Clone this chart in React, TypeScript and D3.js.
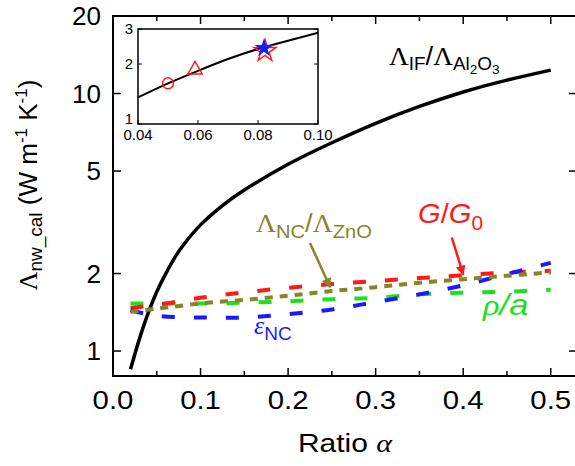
import React from 'react';
import * as d3 from 'd3';

// main panel data (ratio alpha vs calculated conductivity)
const alphaIF = [0.02, 0.03, 0.04, 0.05, 0.06, 0.07, 0.08, 0.1, 0.125, 0.15, 0.2, 0.25, 0.3, 0.35, 0.4, 0.45, 0.5];
const lambdaIF = [0.85, 1.11, 1.4, 1.7, 1.99, 2.29, 2.57, 3.09, 3.67, 4.22, 5.31, 6.44, 7.66, 8.91, 10.14, 11.27, 12.33];

const alpha = [0.02, 0.05, 0.1, 0.15, 0.2, 0.25, 0.3, 0.35, 0.4, 0.45, 0.5];
const gRatio = [1.47, 1.51, 1.61, 1.69, 1.76, 1.82, 1.87, 1.92, 1.97, 2.02, 2.05];
const rhoA = [1.53, 1.53, 1.53, 1.54, 1.56, 1.59, 1.61, 1.66, 1.685, 1.7, 1.73];
const epsNC = [1.44, 1.37, 1.35, 1.35, 1.39, 1.45, 1.55, 1.66, 1.8, 1.99, 2.2];
const lambdaNC = [1.42, 1.46, 1.53, 1.58, 1.64, 1.71, 1.77, 1.84, 1.9, 1.96, 2.02];

// inset data
const insetAlpha = [0.04, 0.05, 0.06, 0.07, 0.08, 0.09, 0.1];
const insetLambda = [1.36, 1.6, 1.85, 2.12, 2.38, 2.62, 2.87];
const insetMarks = [
  { a: 0.05, v: 1.6, shape: 'circle' },
  { a: 0.059, v: 1.85, shape: 'triangle' },
  { a: 0.082, v: 2.38, shape: 'star' },
];

const xTicks = [0, 0.1, 0.2, 0.3, 0.4, 0.5];
const xMinor = [0.05, 0.15, 0.25, 0.35, 0.45];
const yTicks = [1, 2, 5, 10, 20];
const insetXTicks = [0.04, 0.06, 0.08, 0.1];
const insetYTicks = [1, 2, 3];

const RED = '#ff1a1a';
const GREEN = '#1fe01f';
const BLUE = '#1a1aff';
const OLIVE = '#85852a';

const W = 575, H = 466;
const left = 113, right = 577, top = 16, bottom = 376;

const sans = 'Arial, "Liberation Sans", sans-serif';
const serif = '"Liberation Serif", "Times New Roman", serif';

// text that is a bit wider than the font, like the original export
function WideText({ x, y, sx = 1.15, children, ...rest }: any) {
  return (
    <g transform={`translate(${x},${y}) scale(${sx},1)`}>
      <text x={0} y={0} {...rest}>{children}</text>
    </g>
  );
}

export default function App() {
  const x = d3.scaleLinear().domain([0, 0.53]).range([left, right]);
  const y = d3.scaleLog().domain([0.8, 20]).range([bottom, top]);

  const ix = d3.scaleLinear().domain([0.04, 0.1]).range([138, 318]);
  const iy = d3.scaleLog().domain([1, 3]).range([124, 29]);

  const line = (xs: number[], ys: number[], curve: any = d3.curveCatmullRom) =>
    d3.line<number>().x((d, i) => x(xs[i])).y(d => y(d)).curve(curve)(ys) || '';
  const insetLine = d3.line<number>().x((d, i) => ix(insetAlpha[i])).y(d => iy(d)).curve(d3.curveNatural)(insetLambda) || '';

  const star = d3.symbol().type(d3.symbolStar).size(150)() || '';
  const tri = d3.symbol().type(d3.symbolTriangle).size(90)() || '';

  return (
    <svg width={W} height={H} style={{ position: 'absolute', left: 0, top: 0, background: '#fff' }}>
      <defs>
        <marker id="arrRed" viewBox="0 0 10 10" refX="9" refY="5" markerWidth="4" markerHeight="4" orient="auto">
          <path d="M0,0 L10,5 L0,10 z" fill={RED} />
        </marker>
        <marker id="arrOlive" viewBox="0 0 10 10" refX="9" refY="5" markerWidth="4" markerHeight="4" orient="auto">
          <path d="M0,0 L10,5 L0,10 z" fill={OLIVE} />
        </marker>
        <clipPath id="plotClip">
          <rect x={left} y={top} width={right - left} height={bottom - top} />
        </clipPath>
      </defs>

      {/* frame */}
      <rect x={left} y={top} width={right - left} height={bottom - top} fill="none" stroke="#000" strokeWidth={2} />

      {/* x ticks, bottom and top */}
      {xTicks.map(t => (
        <g key={'xt' + t}>
          <line x1={x(t)} x2={x(t)} y1={bottom} y2={bottom - 8} stroke="#000" strokeWidth={1.5} />
          <line x1={x(t)} x2={x(t)} y1={top} y2={top + 8} stroke="#000" strokeWidth={1.5} />
          <WideText x={x(t)} y={409} sx={1.13} textAnchor="middle" fontFamily={sans} fontSize={26}>{t.toFixed(1)}</WideText>
        </g>
      ))}
      {xMinor.map(t => (
        <g key={'xm' + t}>
          <line x1={x(t)} x2={x(t)} y1={bottom} y2={bottom - 5} stroke="#000" strokeWidth={1.5} />
          <line x1={x(t)} x2={x(t)} y1={top} y2={top + 5} stroke="#000" strokeWidth={1.5} />
        </g>
      ))}

      {/* y ticks, left and right */}
      {yTicks.map(t => (
        <g key={'yt' + t}>
          <line x1={left} x2={left + 8} y1={y(t)} y2={y(t)} stroke="#000" strokeWidth={1.5} />
          <line x1={right} x2={right - 8} y1={y(t)} y2={y(t)} stroke="#000" strokeWidth={1.5} />
          <text x={101} y={y(t)} dy="0.36em" textAnchor="end" fontFamily={sans} fontSize={26}>{t}</text>
        </g>
      ))}

      {/* axis titles */}
      <WideText x={345} y={452} sx={1.2} textAnchor="middle" fontFamily={sans} fontSize={25}>
        Ratio <tspan fontFamily={serif} fontStyle="italic">α</tspan>
      </WideText>
      <text transform="translate(37,185) rotate(-90)" textAnchor="middle" fontFamily={sans} fontSize={26}>
        <tspan fontFamily={serif}>Λ</tspan>
        <tspan fontSize={19} dy={5}>nw_cal</tspan>
        <tspan dy={-5}> (W m</tspan>
        <tspan fontSize={17} dy={-10}>-1</tspan>
        <tspan dy={10}> K</tspan>
        <tspan fontSize={17} dy={-10}>-1</tspan>
        <tspan dy={10}>)</tspan>
      </text>

      {/* curves */}
      <g clipPath="url(#plotClip)" fill="none">
        <path d={line(alphaIF, lambdaIF, d3.curveNatural)} stroke="#000" strokeWidth={3.5} />
        <path d={line(alpha, rhoA)} stroke={GREEN} strokeWidth={4} strokeDasharray="13,19" />
        <path d={line(alpha, gRatio)} stroke={RED} strokeWidth={4} strokeDasharray="13,19" />
        <path d={line(alpha, epsNC)} stroke={BLUE} strokeWidth={4} strokeDasharray="13,19" />
        <path d={line(alpha, lambdaNC)} stroke={OLIVE} strokeWidth={4} strokeDasharray="8,7" />
      </g>

      {/* annotations */}
      <WideText x={389} y={65} sx={1.05} fontFamily={sans} fontSize={26} fill="#000">
        <tspan fontFamily={serif}>Λ</tspan>
        <tspan fontSize={18} dy={5}>IF</tspan>
        <tspan dy={-5}>/</tspan>
        <tspan fontFamily={serif}>Λ</tspan>
        <tspan fontSize={18} dy={5}>Al</tspan>
        <tspan fontSize={13} dy={4}>2</tspan>
        <tspan fontSize={18} dy={-4}>O</tspan>
        <tspan fontSize={13} dy={4}>3</tspan>
      </WideText>

      <WideText x={256} y={232} sx={1.06} fontFamily={sans} fontSize={26} fill={OLIVE}>
        <tspan fontFamily={serif}>Λ</tspan>
        <tspan fontSize={19} dy={6}>NC</tspan>
        <tspan dy={-6}>/</tspan>
        <tspan fontFamily={serif}>Λ</tspan>
        <tspan fontSize={19} dy={6}>ZnO</tspan>
      </WideText>
      <line x1={x(0.225)} y1={y(2.63)} x2={x(0.248)} y2={y(1.77)} stroke={OLIVE} strokeWidth={2.5} markerEnd="url(#arrOlive)" />

      <WideText x={418} y={223} sx={1.04} fontFamily={sans} fontSize={28} fill={RED}>
        <tspan fontStyle="italic">G</tspan>/<tspan fontStyle="italic">G</tspan>
        <tspan fontSize={20} dy={7}>0</tspan>
      </WideText>
      <line x1={x(0.387)} y1={y(2.76)} x2={x(0.4)} y2={y(1.98)} stroke={RED} strokeWidth={2.5} markerEnd="url(#arrRed)" />

      <WideText x={483} y={315} sx={1.15} fontFamily={serif} fontSize={30} fontStyle="italic" fill={GREEN}>
        ρ<tspan fontFamily={sans}>/a</tspan>
      </WideText>

      <text x={254} y={334} fontFamily={sans} fontSize={26} fill={BLUE}>
        <tspan fontFamily={serif} fontStyle="italic">ε</tspan>
        <tspan fontSize={19} dy={6}>NC</tspan>
      </text>

      {/* inset */}
      <g>
        <rect x={ix(0.04)} y={iy(3)} width={ix(0.1) - ix(0.04)} height={iy(1) - iy(3)} fill="#fff" stroke="#000" strokeWidth={1.5} />
        {insetYTicks.map(t => (
          <g key={'iy' + t}>
            <line x1={ix(0.04)} x2={ix(0.04) + 4} y1={iy(t)} y2={iy(t)} stroke="#000" strokeWidth={1} />
            <line x1={ix(0.1)} x2={ix(0.1) - 4} y1={iy(t)} y2={iy(t)} stroke="#000" strokeWidth={1} />
            <text x={133} y={iy(t) - (t === 1 ? 5 : 0)} dy="0.36em" textAnchor="end" fontFamily={sans} fontSize={15}>{t}</text>
          </g>
        ))}
        {insetXTicks.map(t => (
          <g key={'ix' + t}>
            <line x1={ix(t)} x2={ix(t)} y1={iy(1)} y2={iy(1) - 4} stroke="#000" strokeWidth={1} />
            <text x={ix(t)} y={140} textAnchor="middle" fontFamily={sans} fontSize={15}>{t.toFixed(2)}</text>
          </g>
        ))}
        <path d={insetLine} fill="none" stroke="#000" strokeWidth={2} />
        {insetMarks.map(m => {
          const cx = ix(m.a), cy = iy(m.v);
          if (m.shape === 'circle') return <circle key="c" cx={cx} cy={cy} r={5.5} fill="none" stroke={RED} strokeWidth={1.5} />;
          if (m.shape === 'triangle') return <path key="t" d={tri} transform={`translate(${cx},${cy - 1})`} fill="none" stroke={RED} strokeWidth={1.5} />;
          return (
            <g key="s">
              <path d={star} transform={`translate(${cx + 1},${cy + 2})`} fill="none" stroke={RED} strokeWidth={1.5} />
              <path d={star} transform={`translate(${cx},${cy - 1}) scale(0.85)`} fill={BLUE} />
            </g>
          );
        })}
      </g>
    </svg>
  );
}
